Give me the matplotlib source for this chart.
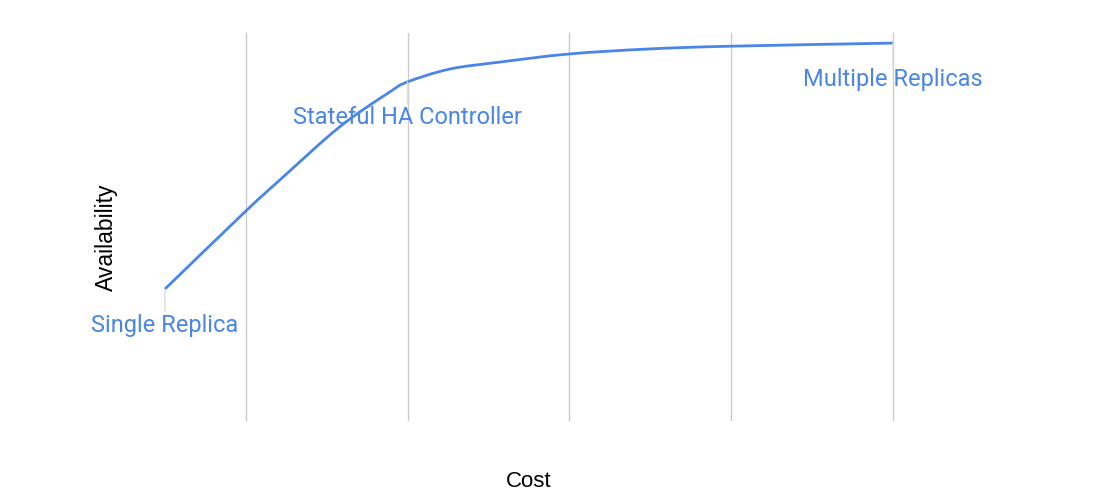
import matplotlib
matplotlib.use("Agg")
import matplotlib.pyplot as plt
from matplotlib.path import Path
from matplotlib.patches import PathPatch

# values (cost in grid units, availability 0-100)
cost = [0.5, 1.0, 1.21, 1.58, 1.89, 2.0, 2.26, 2.57, 3.0, 3.5, 4.0, 5.0]
avail = [34.0, 54.1, 62.1, 75.8, 84.8, 87.4, 90.7, 92.5, 94.6, 95.9, 96.6, 97.4]

labels = {0: "Single Replica", 5: "Stateful HA Controller", 11: "Multiple Replicas"}

blue = "#4a86e8"

fig = plt.figure(figsize=(11, 4.94), dpi=100)
ax = fig.add_axes([84/1100, 73/494, 817/1100, 388/494])

ax.set_xlim(0, 5.05)
ax.set_ylim(0, 100)
for s in ax.spines.values():
    s.set_visible(False)
ax.set_xticks([1, 2, 3, 4, 5])
ax.set_yticks([])
ax.tick_params(length=0, labelbottom=False)
ax.grid(axis="x", color="#cccccc", lw=1)

# smooth line through the points, drawn as bezier segments (catmull-rom handles)
pts = list(zip(cost, avail))
verts = [pts[0]]
codes = [Path.MOVETO]
n = len(pts)
for i in range(n - 1):
    p0 = pts[max(i - 1, 0)]
    p1 = pts[i]
    p2 = pts[i + 1]
    p3 = pts[min(i + 2, n - 1)]
    c1 = (p1[0] + (p2[0] - p0[0]) / 6, p1[1] + (p2[1] - p0[1]) / 6)
    c2 = (p2[0] - (p3[0] - p1[0]) / 6, p2[1] - (p3[1] - p1[1]) / 6)
    verts += [c1, c2, p2]
    codes += [Path.CURVE4] * 3
ax.add_patch(PathPatch(Path(verts, codes), fill=False, edgecolor=blue, lw=2,
                       capstyle="butt", zorder=3))

for i, txt in labels.items():
    ax.annotate("", xy=(cost[i], avail[i]), xytext=(0, -16), textcoords="offset points",
                arrowprops=dict(arrowstyle="-", color="#dddddd", lw=1, shrinkA=0, shrinkB=0))
    ax.annotate(txt, xy=(cost[i], avail[i]), xytext=(0, -26), textcoords="offset points",
                ha="center", va="center", color=blue, fontsize=17, family="Roboto", zorder=4)

fig.text(529/1100, 1 - 481/494, "Cost", ha="center", va="center",
         fontsize=16, family="Liberation Sans")
fig.text(106/1100, 1 - 237/494, "Availability", ha="center", va="center",
         rotation=90, fontsize=16.5, family="Liberation Sans")

fig.savefig("out.png", dpi=100)
